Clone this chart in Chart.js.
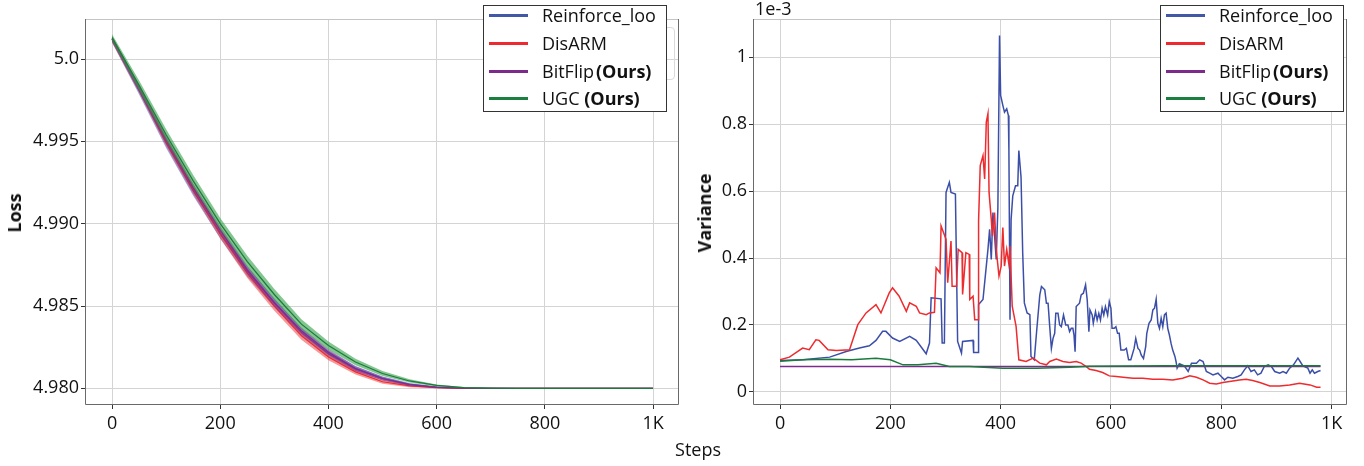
<!DOCTYPE html>
<html>
<head>
<meta charset="utf-8">
<script src="https://cdn.jsdelivr.net/npm/chart.js@4.4.1/dist/chart.umd.min.js"></script>
<style>
  body { margin: 0; width: 1364px; height: 466px; background: #fff; position: relative; overflow: hidden; font-family: 'Open Sans', sans-serif; color: #111; }
  .panel { position: absolute; top: 0; width: 682px; height: 466px; }
  .legend { position: absolute; top: 5px; width: 182px; height: 105px; border: 1px solid #333; background: #fff; font-size: 18px; z-index: 3; }
  .legend .row { position: absolute; left: 0; width: 180px; height: 28px; line-height: 28px; white-space: nowrap; }
  .legend .swatch { position: absolute; left: 5px; top: 13px; width: 39px; height: 3px; }
  .legend .txt { position: absolute; left: 58px; top: 0; }
  .ghost { position: absolute; left: 560px; top: 27px; width: 113px; height: 51px; border: 1px solid #dadada; border-radius: 4px; z-index: 2; }
  .label { position: absolute; font-size: 18px; white-space: nowrap; z-index: 2; }
  .ylabel { font-weight: bold; transform: translate(-50%, -50%) rotate(-90deg); }
</style>
</head>
<body>

<div class="panel" style="left:0"><canvas id="lossChart" width="682" height="466"></canvas></div>
<div class="panel" style="left:682px"><canvas id="varChart" width="682" height="466"></canvas></div>

<div class="ghost"></div>
<div class="legend" id="legend-left" style="left:483px"></div>
<div class="legend" id="legend-right" style="left:1160px"></div>

<div class="label ylabel" style="left:14px; top:213px">Loss</div>
<div class="label ylabel" style="left:704px; top:213px">Variance</div>
<div class="label" style="left:698px; top:449px; transform: translate(-50%, -50%)">Steps</div>
<div class="label" style="left:755px; top:-4px">1e-3</div>

<script>
// --- Shared tick setup ---
const stepTicks = [0, 200, 400, 600, 800, 1000];
const stepTickLabels = ['0', '200', '400', '600', '800', '1K'];
const lossTicks = [4.98, 4.985, 4.99, 4.995, 5.0];
const lossTickLabels = ['4.980', '4.985', '4.990', '4.995', '5.0'];
const varTicks = [0, 0.2, 0.4, 0.6, 0.8, 1.0];
const varTickLabels = ['0', '0.2', '0.4', '0.6', '0.8', '1'];

// --- Loss curves (left), sampled every 50 steps ---
const lossSteps = [0, 50, 100, 150, 200, 250, 300, 350, 400, 450, 500, 550, 600, 650, 700, 750, 800, 850, 900, 950, 1000];
const reinforceLoss = [5.0012, 4.9981, 4.9949, 4.9920, 4.9894, 4.9871, 4.9852, 4.9834, 4.9821, 4.9812, 4.9806, 4.98025, 4.98008, 4.98002, 4.9800, 4.9800, 4.9800, 4.9800, 4.9800, 4.9800, 4.9800];
const disarmLoss = [5.0012, 4.9982, 4.9950, 4.9921, 4.9894, 4.9870, 4.9850, 4.9832, 4.9819, 4.9810, 4.9804, 4.98015, 4.98004, 4.9800, 4.9800, 4.9800, 4.9800, 4.9800, 4.9800, 4.9800, 4.9800];
const bitflipLoss = [5.0012, 4.9982, 4.9951, 4.9922, 4.9896, 4.9872, 4.9852, 4.9835, 4.9822, 4.9812, 4.9806, 4.98022, 4.98006, 4.98001, 4.9800, 4.9800, 4.9800, 4.9800, 4.9800, 4.9800, 4.9800];
const ugcLoss = [5.0013, 4.9984, 4.9954, 4.9926, 4.9900, 4.9877, 4.9857, 4.9839, 4.9826, 4.9816, 4.9809, 4.98045, 4.98018, 4.98005, 4.98001, 4.9800, 4.9800, 4.9800, 4.9800, 4.9800, 4.9800];

// spread (half width of the shaded band)
const reinforceSpread = [0.0002, 0.00025, 0.0003, 0.0003, 0.0003, 0.0003, 0.00028, 0.00025, 0.0002, 0.00016, 0.00012, 0.00008, 0.00004, 0.00002, 0.00001, 0, 0, 0, 0, 0, 0];
const disarmSpread = [0.0002, 0.00025, 0.00028, 0.0003, 0.0003, 0.0003, 0.00028, 0.00025, 0.0002, 0.00016, 0.00012, 0.00008, 0.00004, 0.00002, 0.00001, 0, 0, 0, 0, 0, 0];
const bitflipSpread = [0.00015, 0.0002, 0.00022, 0.00024, 0.00025, 0.00025, 0.00023, 0.0002, 0.00017, 0.00014, 0.0001, 0.00007, 0.00004, 0.00002, 0.00001, 0, 0, 0, 0, 0, 0];
const ugcSpread = [0.0002, 0.0003, 0.00033, 0.00035, 0.00035, 0.00035, 0.00033, 0.0003, 0.00025, 0.0002, 0.00015, 0.0001, 0.00006, 0.00003, 0.00001, 0, 0, 0, 0, 0, 0];

// --- Variance traces (right), in units of 1e-3 ---
const reinforceVarSteps = [0, 41, 90, 120, 144, 162, 174, 186, 192, 204, 217, 235, 247, 265, 271, 274, 292, 294, 298, 301, 307, 310, 318, 322, 329, 331, 350, 351, 359, 360, 368, 377, 380, 383, 386, 392, 395, 398, 400, 404, 407, 411, 414, 415, 417, 419, 422, 427, 431, 433, 437, 440, 443, 448, 453, 455, 461, 465,
    471, 474, 480, 483, 486, 489, 492, 495, 498, 500, 504, 507, 510, 514, 518, 522, 525, 528, 531, 533, 535, 537, 543, 546, 550, 554, 557, 560, 562, 566, 568, 572, 575, 578, 581, 584, 587, 590, 594, 597, 600,
    602, 606, 609, 612, 615, 618, 624, 628, 632, 636, 642, 645, 649, 652, 655, 659, 663, 665, 669, 673, 676, 679, 682, 685, 688, 691, 694, 697, 700, 703, 706, 709, 712, 716, 718, 720, 724, 733, 740, 746, 755, 761, 767,
    773, 779, 785, 794, 800, 806, 812, 821, 830, 836, 842, 848, 854, 860, 866, 872, 878, 885, 891, 897, 906, 912, 918, 924, 931, 939, 943, 948, 957, 961, 965, 969, 975, 980];
const reinforceVar = [0.094, 0.096, 0.104, 0.121, 0.131, 0.138, 0.154, 0.181, 0.181, 0.161, 0.151, 0.166, 0.154, 0.114, 0.146, 0.281, 0.278, 0.146, 0.146, 0.596, 0.626, 0.596, 0.591, 0.151, 0.116, 0.151, 0.154, 0.118, 0.118, 0.261, 0.276, 0.426, 0.486, 0.396, 0.536, 0.396, 0.551, 1.065, 0.886, 0.856, 0.836, 0.846, 0.826, 0.721, 0.216, 0.516, 0.586, 0.616, 0.616, 0.721, 0.641, 0.416, 0.266, 0.236, 0.231, 0.106, 0.096, 0.176,
    0.290, 0.315, 0.305, 0.265, 0.265, 0.195, 0.130, 0.160, 0.175, 0.235, 0.235, 0.200, 0.195, 0.230, 0.200, 0.200, 0.180, 0.190, 0.190, 0.170, 0.120, 0.255, 0.265, 0.290, 0.295, 0.320, 0.275, 0.180, 0.245, 0.230, 0.205, 0.240, 0.215, 0.235, 0.215, 0.250, 0.230, 0.255, 0.230, 0.270, 0.250,
    0.190, 0.190, 0.195, 0.175, 0.175, 0.125, 0.125, 0.130, 0.096, 0.096, 0.130, 0.160, 0.130, 0.125, 0.110, 0.100, 0.135, 0.175, 0.205, 0.215, 0.245, 0.250, 0.277, 0.205, 0.190, 0.220, 0.195, 0.230, 0.235, 0.190, 0.170, 0.145, 0.125, 0.106, 0.091, 0.071, 0.084, 0.078, 0.061, 0.086, 0.086, 0.096, 0.091,
    0.061, 0.056, 0.051, 0.056, 0.046, 0.036, 0.044, 0.041, 0.046, 0.051, 0.066, 0.078, 0.061, 0.066, 0.051, 0.056, 0.076, 0.081, 0.076, 0.061, 0.056, 0.061, 0.056, 0.071, 0.081, 0.101, 0.091, 0.078, 0.071, 0.056, 0.066, 0.056, 0.061, 0.064];

const disarmVarSteps = [0, 17, 41, 53, 65, 71, 87, 102, 126, 132, 141, 156, 174, 183, 198, 204, 216, 229, 235, 247, 253, 265, 271, 280, 283, 290, 292, 301, 304, 310, 312, 320, 323, 330, 331, 337, 343, 344, 350, 353, 359, 360, 363, 368, 371, 374, 377, 379, 383, 385, 389, 392, 397, 401, 404, 407, 411, 415, 417, 421, 428, 433, 446, 459, 471, 483,
    489, 501, 513, 525, 537, 546, 555, 561, 573, 585, 597, 610, 622, 640, 658, 676, 694, 712, 730, 743, 755, 767, 779, 791, 803, 815, 833, 845, 857, 870, 888, 906, 924, 942, 961, 973, 980];
const disarmVar = [0.096, 0.104, 0.131, 0.126, 0.156, 0.154, 0.126, 0.124, 0.126, 0.156, 0.201, 0.236, 0.261, 0.236, 0.296, 0.311, 0.286, 0.241, 0.266, 0.256, 0.236, 0.231, 0.236, 0.238, 0.371, 0.356, 0.496, 0.456, 0.326, 0.451, 0.316, 0.316, 0.426, 0.416, 0.291, 0.416, 0.411, 0.276, 0.286, 0.216, 0.216, 0.511, 0.676, 0.706, 0.636, 0.806, 0.831, 0.596, 0.516, 0.466, 0.536, 0.426, 0.346, 0.376, 0.491, 0.376, 0.426, 0.381, 0.436, 0.256, 0.196, 0.096, 0.091, 0.101, 0.086, 0.081,
    0.091, 0.098, 0.091, 0.088, 0.091, 0.086, 0.076, 0.068, 0.064, 0.058, 0.048, 0.046, 0.044, 0.041, 0.041, 0.038, 0.038, 0.036, 0.041, 0.048, 0.044, 0.036, 0.026, 0.024, 0.028, 0.031, 0.036, 0.038, 0.034, 0.028, 0.018, 0.018, 0.021, 0.026, 0.021, 0.014, 0.014];

const bitflipVarSteps = [0, 980];
const bitflipVar = [0.076, 0.076];

const ugcVarSteps = [0, 41, 90, 130, 174, 200, 223, 250, 283, 307, 344, 404, 465, 525, 560, 700, 980];
const ugcVar = [0.092, 0.096, 0.098, 0.096, 0.101, 0.096, 0.081, 0.081, 0.086, 0.076, 0.076, 0.071, 0.071, 0.074, 0.077, 0.078, 0.078];

// --- Series styling ---
const series = [
    { name: 'Reinforce_loo', ours: false, line: '#3c4fa8', band: 'rgba(75, 95, 200, 0.55)', swatch: '#4357a9' },
    { name: 'DisARM', ours: false, line: '#ee2b2e', band: 'rgba(240, 50, 50, 0.5)', swatch: '#ee2a2f' },
    { name: 'BitFlip', ours: true, line: '#7d2c8e', band: 'rgba(130, 45, 145, 0.5)', swatch: '#7c2b8c' },
    { name: 'UGC', ours: true, line: '#1b7a3c', band: 'rgba(50, 160, 70, 0.6)', swatch: '#1a7f3f' }
];
const lossData = [
    [reinforceLoss, reinforceSpread],
    [disarmLoss, disarmSpread],
    [bitflipLoss, bitflipSpread],
    [ugcLoss, ugcSpread]
];
const varData = [
    [reinforceVarSteps, reinforceVar],
    [disarmVarSteps, disarmVar],
    [bitflipVarSteps, bitflipVar],
    [ugcVarSteps, ugcVar]
];

Chart.defaults.font.family = "'Open Sans', sans-serif";
Chart.defaults.font.size = 18;
Chart.defaults.color = '#111';

// --- Frame around the plot area ---
const framePlugin = {
    id: 'frame',
    afterDraw(chart) {
        const { ctx, chartArea: a } = chart;
        ctx.save();
        ctx.lineWidth = 1;
        ctx.strokeStyle = '#c4c4c4';
        ctx.beginPath();
        ctx.moveTo(a.left, a.top + 0.5);
        ctx.lineTo(a.right, a.top + 0.5);
        ctx.stroke();
        ctx.strokeStyle = '#6a6a6a';
        ctx.beginPath();
        ctx.moveTo(a.left + 0.5, a.top);
        ctx.lineTo(a.left + 0.5, a.bottom - 0.5);
        ctx.lineTo(a.right - 0.5, a.bottom - 0.5);
        ctx.lineTo(a.right - 0.5, a.top);
        ctx.stroke();
        ctx.restore();
    }
};

function buildScales(opts) {
    const grid = { color: '#d4d4d4', lineWidth: 1, tickLength: 4, tickColor: '#333', drawTicks: true };
    return {
        x: {
            type: 'linear', min: opts.xMin, max: opts.xMax,
            grid: grid,
            border: { display: false },
            afterFit: s => { s.height = 61; },
            afterBuildTicks: s => { s.ticks = stepTicks.map(v => ({ value: v })); },
            ticks: { padding: 4, maxRotation: 0, autoSkip: false, callback: v => stepTickLabels[stepTicks.indexOf(v)] }
        },
        y: {
            type: 'linear', min: opts.yMin, max: opts.yMax,
            grid: grid,
            border: { display: false },
            afterFit: s => { s.width = opts.yWidth; },
            afterBuildTicks: s => { s.ticks = opts.ticks.map(v => ({ value: v })); },
            ticks: { padding: 2, autoSkip: false, callback: v => opts.labels[opts.ticks.indexOf(v)] }
        }
    };
}

// --- Left: loss with shaded bands ---
function drawLossChart() {
    const datasets = [];
    series.forEach((s, k) => {
        const mean = lossData[k][0];
        const spread = lossData[k][1];
        const base = (series.length - k) * 2;
        datasets.push({
            data: lossSteps.map((x, i) => ({ x: x, y: mean[i] + spread[i] })),
            borderWidth: 0, pointRadius: 0, fill: '+1', backgroundColor: s.band, order: base
        });
        datasets.push({
            data: lossSteps.map((x, i) => ({ x: x, y: mean[i] - spread[i] })),
            borderWidth: 0, pointRadius: 0, fill: false, order: base
        });
        datasets.push({
            data: lossSteps.map((x, i) => ({ x: x, y: mean[i] })),
            borderColor: s.line, borderWidth: 1.2, pointRadius: 0, fill: false, order: base - 1
        });
    });

    new Chart(document.getElementById('lossChart'), {
        type: 'line',
        data: { datasets: datasets },
        options: {
            responsive: false,
            animation: false,
            layout: { padding: { left: 0, right: 3, top: 19, bottom: 0 } },
            plugins: { legend: { display: false }, tooltip: { enabled: false } },
            scales: buildScales({ xMin: -50, xMax: 1048, yMin: 4.97899, yMax: 5.00243, yWidth: 85, ticks: lossTicks, labels: lossTickLabels })
        },
        plugins: [framePlugin]
    });
}

// --- Right: variance traces ---
function drawVarChart() {
    const datasets = series.map((s, k) => ({
        data: varData[k][0].map((x, i) => ({ x: x, y: varData[k][1][i] })),
        borderColor: s.line, borderWidth: 1.5, pointRadius: 0, fill: false, order: series.length - k
    }));

    new Chart(document.getElementById('varChart'), {
        type: 'line',
        data: { datasets: datasets },
        options: {
            responsive: false,
            animation: false,
            layout: { padding: { left: 0, right: 17, top: 19, bottom: 0 } },
            plugins: { legend: { display: false }, tooltip: { enabled: false } },
            scales: buildScales({ xMin: -49, xMax: 1028, yMin: -0.039, yMax: 1.114, yWidth: 71, ticks: varTicks, labels: varTickLabels })
        },
        plugins: [framePlugin]
    });
}

// --- Legends (HTML so the bold "(Ours)" can sit next to the name) ---
function buildLegend(id) {
    const box = document.getElementById(id);
    const rowTops = [-5, 23, 51, 78];
    series.forEach((s, k) => {
        const row = document.createElement('div');
        row.className = 'row';
        row.style.top = rowTops[k] + 'px';
        let text = s.name;
        if (s.ours) text += (s.name === 'UGC' ? ' ' : '') + '<b' + (s.name === 'UGC' ? '' : ' style="margin-left:2px"') + '>(Ours)</b>';
        row.innerHTML = `<span class="swatch" style="background:${s.swatch}"></span><span class="txt">${text}</span>`;
        box.appendChild(row);
    });
}

buildLegend('legend-left');
buildLegend('legend-right');
drawLossChart();
drawVarChart();
</script>
</body>
</html>
